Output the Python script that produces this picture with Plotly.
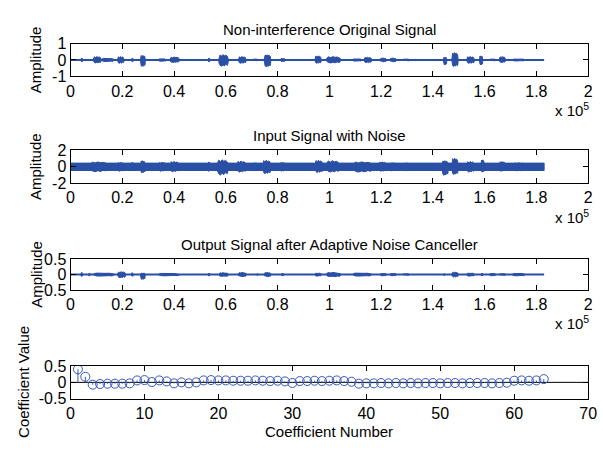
import plotly.graph_objects as go

# ---------------- data ----------------
# signal length (samples)
signal_len = 183000

# speech bursts: (start k-sample, end k-sample, upper amplitude, lower amplitude)
orig_bursts = [
    (3.9, 4.7, 0.12, 0.12), (8.7, 11.9, 0.2, 0.18), (11.9, 16.9, 0.1, 0.1),
    (18.1, 20.7, 0.2, 0.2), (23.5, 24.2, 0.12, 0.12), (27.0, 28.9, 0.28, 0.4),
    (33.9, 37.0, 0.08, 0.08), (38.3, 42.1, 0.18, 0.15), (53.1, 53.8, 0.12, 0.12),
    (57.2, 61.0, 0.32, 0.38), (64.8, 67.9, 0.2, 0.2), (70.4, 72.3, 0.06, 0.06),
    (74.8, 77.4, 0.32, 0.42), (81.1, 83.0, 0.1, 0.1), (94.4, 96.9, 0.25, 0.2),
    (98.8, 104.5, 0.2, 0.18), (108.9, 112.6, 0.07, 0.07), (113.3, 116.4, 0.16, 0.16),
    (119.6, 122.1, 0.12, 0.12), (123.4, 125.9, 0.12, 0.12), (128.4, 130.9, 0.06, 0.06),
    (133.1, 133.7, 0.04, 0.04), (144.1, 145.4, 0.18, 0.3), (147.3, 149.8, 0.45, 0.4),
    (153.0, 156.1, 0.2, 0.2), (158.0, 159.3, 0.25, 0.3), (161.8, 164.3, 0.06, 0.06),
    (165.6, 168.1, 0.2, 0.15), (170.6, 175.6, 0.06, 0.06),
]

noise_level = 0.45
noisy_bursts = [
    (7.4, 14.4, 0.6, 0.6), (18.1, 20.7, 0.55, 0.55), (23.5, 24.2, 0.55, 0.5),
    (27.0, 28.9, 0.75, 0.75), (33.9, 37.0, 0.55, 0.55), (38.3, 42.1, 0.65, 0.6),
    (53.1, 53.8, 0.6, 0.55), (56.6, 61.0, 0.85, 1.0), (64.2, 67.9, 0.7, 0.65),
    (70.4, 72.3, 0.5, 0.5), (74.2, 77.4, 0.8, 0.85), (81.1, 83.0, 0.55, 0.55),
    (94.4, 97.5, 0.8, 0.7), (98.8, 104.0, 0.75, 0.65), (108.9, 116.9, 0.6, 0.65),
    (119.0, 122.1, 0.6, 0.55), (123.4, 125.9, 0.5, 0.5), (129.0, 130.9, 0.5, 0.5),
    (143.5, 146.0, 0.75, 1.05), (147.3, 149.8, 1.05, 0.95), (153.0, 156.1, 0.65, 0.65),
    (158.6, 159.9, 0.85, 0.65), (165.6, 168.1, 0.65, 0.55), (171.2, 175.6, 0.5, 0.5),
]

output_bursts = [
    (3.9, 4.7, 0.07, 0.06), (7.0, 7.6, 0.05, 0.05), (8.7, 16.9, 0.05, 0.05),
    (18.1, 21.3, 0.09, 0.1), (23.5, 24.2, 0.06, 0.06), (27.0, 28.9, 0.05, 0.16),
    (33.9, 42.1, 0.04, 0.04), (53.1, 53.8, 0.05, 0.05), (57.2, 61.0, 0.06, 0.06),
    (64.8, 67.9, 0.07, 0.07), (72.0, 72.6, 0.03, 0.03), (74.8, 77.4, 0.07, 0.07),
    (81.6, 82.4, 0.05, 0.05), (94.4, 96.9, 0.05, 0.05), (98.8, 104.5, 0.07, 0.07),
    (108.9, 116.4, 0.05, 0.05), (119.6, 122.1, 0.04, 0.04), (123.4, 125.9, 0.04, 0.04),
    (128.4, 130.9, 0.03, 0.03), (144.1, 144.8, 0.03, 0.03), (147.3, 149.8, 0.08, 0.08),
    (153.0, 156.1, 0.05, 0.05), (158.6, 159.3, 0.05, 0.05), (161.8, 164.3, 0.04, 0.04),
    (165.6, 168.1, 0.03, 0.03), (170.6, 175.6, 0.04, 0.04),
]

coef_values = [
    0.40, 0.17, -0.07, -0.05, -0.04, -0.04, -0.04, -0.03, 0.06, 0.07,
    0.01, 0.06, 0.03, -0.03, 0.00, -0.03, 0.00, 0.06, 0.07, 0.06,
    0.06, 0.05, 0.05, 0.05, 0.06, 0.05, 0.04, 0.05, 0.03, -0.02,
    0.04, 0.04, 0.05, 0.04, 0.05, 0.06, 0.04, 0.02, -0.04, -0.03,
    -0.03, -0.02, -0.03, -0.02, -0.03, -0.02, -0.03, -0.02, -0.02, -0.03,
    -0.02, -0.02, -0.03, -0.02, -0.02, -0.02, -0.03, -0.02, -0.01, 0.05,
    0.06, 0.05, 0.06, 0.10,
]
coef_numbers = list(range(1, len(coef_values) + 1))

panel_titles = ["Non-interference Original Signal", "Input Signal with Noise",
                "Output Signal after Adaptive Noise Canceller"]
signal_ticks = [0, 0.2, 0.4, 0.6, 0.8, 1, 1.2, 1.4, 1.6, 1.8, 2]
y_ranges = [(-1, 1), (-2, 2), (-0.5, 0.5), (-0.5, 0.5)]
y_ticks = [[-1, 0, 1], [-2, 0, 2], [-0.5, 0, 0.5], [-0.5, 0, 0.5]]
coef_ticks = [0, 10, 20, 30, 40, 50, 60, 70]

# ---------------- styling ----------------
BLUE = "#2a50a6"
STEM = "#3558bd"
FONT = "Liberation Sans, Arial, sans-serif"
FS = 15
TFS = 16
W, H = 603, 452
x0, x1 = 68 / W, 597 / W
rows_px = [(37, 71), (148, 182), (261, 293), (372, 406)]
domains = [(1 - b / H, 1 - t / H) for t, b in rows_px]

# relative outline of one burst (fraction along burst, fraction of amplitude)
shape_pos = [0.0, 0.05, 0.15, 0.3, 0.45, 0.6, 0.75, 0.9, 0.97, 1.0]
shape_up = [0.0, 0.6, 0.95, 0.75, 1.0, 0.8, 0.9, 0.7, 0.4, 0.0]
shape_dn = [0.0, 0.5, 0.85, 1.0, 0.8, 0.95, 0.7, 0.85, 0.45, 0.0]


def blobs(bursts):
    xs, ys = [], []
    for s, e, up, dn in bursts:
        s *= 1000
        e *= 1000
        if e - s < 600:
            m = (s + e) / 2
            s, e = m - 300, m + 300
        w = e - s
        xs += [s + p * w for p in shape_pos] + [s + p * w for p in reversed(shape_pos)] + [None]
        ys += [up * f for f in shape_up] + [-dn * f for f in reversed(shape_dn)] + [None]
    return xs, ys


fig = go.Figure()

for i, bursts in enumerate([orig_bursts, noisy_bursts, output_bursts]):
    xa = "x" if i == 0 else f"x{i+1}"
    ya = "y" if i == 0 else f"y{i+1}"
    if i == 1:
        fig.add_trace(go.Scatter(x=[0, signal_len, signal_len, 0, 0],
                                 y=[noise_level, noise_level, -noise_level, -noise_level, noise_level],
                                 mode="lines", fill="toself", fillcolor=BLUE,
                                 line=dict(color=BLUE, width=1), xaxis=xa, yaxis=ya,
                                 showlegend=False, hoverinfo="skip"))
    else:
        fig.add_trace(go.Scatter(x=[0, signal_len], y=[0, 0], mode="lines",
                                 line=dict(color=BLUE, width=2), xaxis=xa, yaxis=ya,
                                 showlegend=False, hoverinfo="skip"))
    bx, by = blobs(bursts)
    fig.add_trace(go.Scatter(x=bx, y=by, mode="lines", fill="toself", fillcolor=BLUE,
                             line=dict(color=BLUE, width=1), xaxis=xa, yaxis=ya,
                             showlegend=False, hoverinfo="skip"))

# stem plot
sx, sy = [], []
for n, v in zip(coef_numbers, coef_values):
    sx += [n, n, None]
    sy += [0, v, None]
fig.add_trace(go.Scatter(x=[0, 70], y=[0, 0], mode="lines", line=dict(color="black", width=1),
                         xaxis="x4", yaxis="y4", showlegend=False, hoverinfo="skip"))
fig.add_trace(go.Scatter(x=sx, y=sy, mode="lines", line=dict(color=STEM, width=1),
                         xaxis="x4", yaxis="y4", showlegend=False, hoverinfo="skip"))
fig.add_trace(go.Scatter(x=coef_numbers, y=coef_values, mode="markers",
                         marker=dict(symbol="circle-open", size=9, color=STEM, line=dict(width=1)),
                         xaxis="x4", yaxis="y4", showlegend=False))

axis_common = dict(showline=True, linecolor="black", linewidth=1, mirror="ticks",
                   ticks="inside", ticklen=5, tickcolor="black", showgrid=False,
                   zeroline=False, tickfont=dict(family=FONT, size=TFS, color="black"))

layout = dict(width=W, height=H, margin=dict(l=0, r=0, t=0, b=0),
              paper_bgcolor="white", plot_bgcolor="white",
              font=dict(family=FONT, size=FS, color="black"))

for i in range(4):
    k = "" if i == 0 else str(i + 1)
    if i < 3:
        xax = dict(axis_common, domain=[x0, x1], anchor=f"y{k}", range=[0, 200000],
                   tickvals=[t * 1e5 for t in signal_ticks],
                   ticktext=[f"{t:g}" for t in signal_ticks])
    else:
        xax = dict(axis_common, domain=[x0, x1], anchor=f"y{k}", range=[0, 70],
                   tickvals=coef_ticks)
    yax = dict(axis_common, domain=list(domains[i]), anchor=f"x{k}",
               range=list(y_ranges[i]), tickvals=y_ticks[i],
               ticktext=[f"{t:g}" for t in y_ticks[i]])
    layout[f"xaxis{k}"] = xax
    layout[f"yaxis{k}"] = yax

annotations = []
for i in range(3):
    top = domains[i][1]
    bot = domains[i][0]
    annotations.append(dict(text=panel_titles[i], x=(x0 + x1) / 2, y=top, xref="paper", yref="paper",
                            xanchor="center", yanchor="bottom", yshift=4, showarrow=False,
                            font=dict(family=FONT, size=FS, color="black")))
    annotations.append(dict(text="Amplitude", x=33 / W, y=(top + bot) / 2, xref="paper", yref="paper",
                            xanchor="center", yanchor="middle", textangle=-90, showarrow=False,
                            font=dict(family=FONT, size=FS, color="black")))
    annotations.append(dict(text="x 10<sup>5</sup>", x=600 / W, y=bot, xref="paper", yref="paper",
                            xanchor="right", yanchor="middle", yshift=-33, showarrow=False,
                            font=dict(family=FONT, size=FS, color="black")))
top4, bot4 = domains[3][1], domains[3][0]
annotations.append(dict(text="Coefficient Value", x=20 / W, y=(top4 + bot4) / 2, xref="paper",
                        yref="paper", xanchor="center", yanchor="middle", textangle=-90,
                        showarrow=False, font=dict(family=FONT, size=FS, color="black")))
annotations.append(dict(text="Coefficient Number", x=(x0 + x1) / 2, y=1 - 440 / H, xref="paper",
                        yref="paper", xanchor="center", yanchor="middle", showarrow=False,
                        font=dict(family=FONT, size=FS, color="black")))
layout["annotations"] = annotations

fig.update_layout(**layout)
fig.write_html("out.html")
